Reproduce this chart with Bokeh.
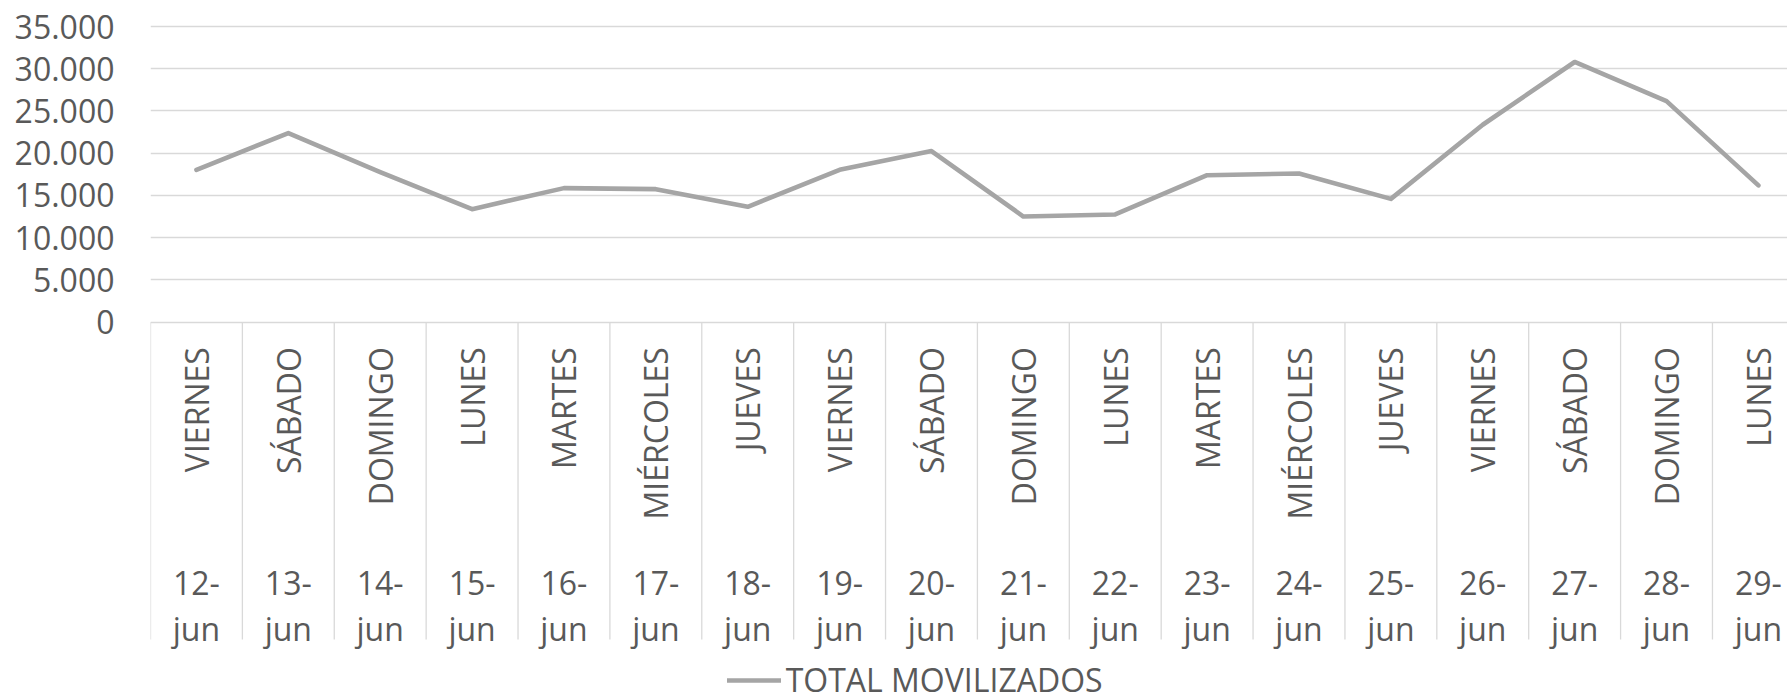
import math
from bokeh.plotting import figure
from bokeh.models import Range1d, FixedTicker, CustomJSTickFormatter, Legend, LegendItem
from bokeh.core.properties import value
from bokeh.embed import file_html
from bokeh.resources import INLINE

# ---- data ----
days = ["VIERNES", "SÁBADO", "DOMINGO", "LUNES", "MARTES", "MIÉRCOLES", "JUEVES",
        "VIERNES", "SÁBADO", "DOMINGO", "LUNES", "MARTES", "MIÉRCOLES", "JUEVES",
        "VIERNES", "SÁBADO", "DOMINGO", "LUNES"]
dates = ["12-jun", "13-jun", "14-jun", "15-jun", "16-jun", "17-jun", "18-jun",
         "19-jun", "20-jun", "21-jun", "22-jun", "23-jun", "24-jun", "25-jun",
         "26-jun", "27-jun", "28-jun", "29-jun"]
total = [18040, 22380, 17760, 13380, 15870, 15750, 13660, 18040, 20250,
         12510, 12750, 17400, 17600, 14600, 23370, 30800, 26170, 16190]
y_ticks = [0, 5000, 10000, 15000, 20000, 25000, 30000, 35000]
series_name = "TOTAL MOVILIZADOS"

# ---- layout ----
W, H = 1787, 697
LEFT = 150
CAT_PX = 91.88
n_visible = (W - LEFT) / CAT_PX
Y0_PX = 321.7      # canvas y of value 0
YMAX_PX = 26.0     # canvas y of top tick
upp = y_ticks[-1] / (Y0_PX - YMAX_PX)

def ydat(cy):
    return (Y0_PX - cy) * upp

TXT = "#595959"
GRID = "#d9d9d9"
LINE = "#a5a5a5"
FONT = "Open Sans"
FS = "32px"

p = figure(width=W, height=H, output_backend="svg", toolbar_location=None,
           x_range=Range1d(0, n_visible), y_range=Range1d(ydat(H), ydat(0)),
           x_axis_location=None,
           min_border_left=LEFT, min_border_right=0, min_border_top=0, min_border_bottom=0)
p.outline_line_color = None
p.background_fill_color = "white"
p.border_fill_color = "white"

p.xgrid.visible = False
p.ygrid.ticker = FixedTicker(ticks=y_ticks)
p.ygrid.grid_line_color = GRID
p.ygrid.grid_line_width = 1.3

ax = p.yaxis[0]
ax.ticker = FixedTicker(ticks=y_ticks)
ax.formatter = CustomJSTickFormatter(code=r"return tick.toFixed(0).replace(/\B(?=(\d{3})+(?!\d))/g, '.');")
ax.axis_line_color = None
ax.major_tick_line_color = None
ax.minor_tick_line_color = None
ax.major_tick_out = 0
ax.major_tick_in = 0
ax.major_label_standoff = 36
ax.major_label_text_font = FONT
ax.major_label_text_font_size = FS
ax.major_label_text_color = TXT

n = len(days)
xs = [i + 0.5 for i in range(n)]
bounds = list(range(n + 1))

# category separators
p.segment(x0=bounds, y0=[0] * len(bounds), x1=bounds, y1=[ydat(639)] * len(bounds),
          line_color=GRID, line_width=1.3)

# category labels
p.text(x=xs, y=[ydat(346.7)] * n, text=days, angle=math.pi / 2,
       text_align="right", text_baseline="middle",
       text_font=value(FONT), text_font_size=FS, text_color=TXT)
d1 = [d.split("-")[0] + "-" for d in dates]
d2 = [d.split("-")[1] for d in dates]
p.text(x=xs, y=[ydat(582.7)] * n, text=d1, text_align="center", text_baseline="alphabetic",
       text_font=value(FONT), text_font_size=FS, text_color=TXT)
p.text(x=xs, y=[ydat(628.3)] * n, text=d2, text_align="center", text_baseline="alphabetic",
       text_font=value(FONT), text_font_size=FS, text_color=TXT)

line_r = p.line(x=xs, y=total, line_color=LINE, line_width=4.6,
                line_cap="round", line_join="round")

legend = Legend(items=[LegendItem(label=series_name, renderers=[line_r])],
                location=(576.7, -4), orientation="horizontal",
                glyph_width=54, glyph_height=20, label_standoff=5,
                padding=0, margin=0, spacing=0,
                border_line_color=None, background_fill_alpha=0,
                label_text_font=FONT, label_text_font_size=FS, label_text_color=TXT)
p.add_layout(legend)

open("out.html", "w").write(file_html(p, INLINE))
